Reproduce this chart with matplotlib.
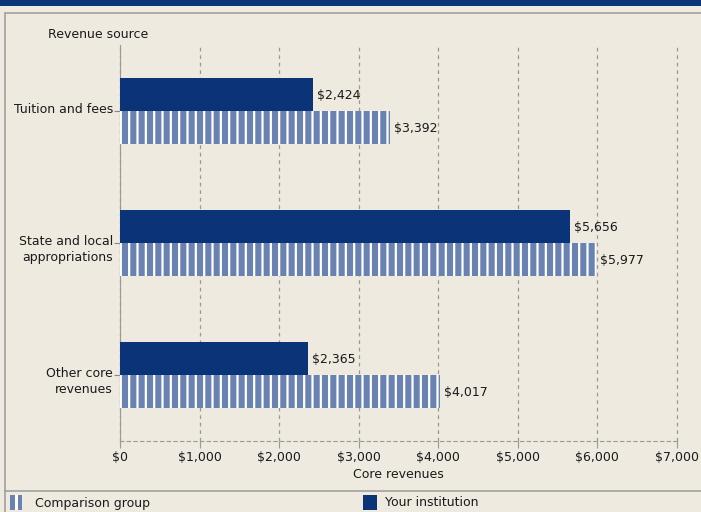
import numpy as np
import matplotlib
matplotlib.use('Agg')
import matplotlib.pyplot as plt
from matplotlib.patches import Rectangle

# données
categories = ['Tuition and fees', 'State and local\nappropriations', 'Other core\nrevenues']
your_inst = [2424, 5656, 2365]
comparison = [3392, 5977, 4017]
x_ticks = [0, 1000, 2000, 3000, 4000, 5000, 6000, 7000]
x_ticklabels = ['$0', '$1,000', '$2,000', '$3,000', '$4,000', '$5,000', '$6,000', '$7,000']

BG = '#EEEAE0'
NAVY = '#0A3378'
LIGHT = '#6A82B2'
GRIDC = '#999999'
TXT = '#1A1A1A'

plt.rcParams['font.family'] = 'DejaVu Sans'
plt.rcParams['hatch.linewidth'] = 1.6

W, H = 701, 512
fig = plt.figure(figsize=(W / 100, H / 100), dpi=100, facecolor=BG)

# bandeau du haut + cadre
fig.patches.append(Rectangle((0, 1 - 6 / H), 1, 6 / H, transform=fig.transFigure,
                             facecolor=NAVY, edgecolor='none'))
fig.patches.append(Rectangle((5 / W, -0.01), 2, 1 - 13 / H + 0.01,
                             transform=fig.transFigure, facecolor='none',
                             edgecolor='#A0A0A0', linewidth=1.2))
fig.add_artist(plt.Line2D([5 / W, 1], [1 - 491 / H] * 2, transform=fig.transFigure,
                          color='#A0A0A0', linewidth=1.2))

ax = fig.add_axes([120 / W, 1 - 441 / H, (677 - 120) / W, (441 - 45) / H])
ax.set_facecolor(BG)

y = np.arange(len(categories))
h = 0.25
ax.barh(y - h / 2, your_inst, height=h, color=NAVY, edgecolor='none', zorder=3)
ax.barh(y + h / 2, comparison, height=h, color=LIGHT, edgecolor='white',
        hatch='||', linewidth=0, zorder=3)

for yi, v in zip(y, your_inst):
    ax.annotate(f'${v:,}', (v, yi - h / 2), xytext=(3, -1), textcoords='offset points',
                va='center', ha='left', fontsize=9, color=TXT)
for yi, v in zip(y, comparison):
    ax.annotate(f'${v:,}', (v, yi + h / 2), xytext=(3, -1), textcoords='offset points',
                va='center', ha='left', fontsize=9, color=TXT)

ax.set_xlim(0, 7000)
ax.set_ylim(len(categories) - 0.5, -0.5)
ax.set_xticks(x_ticks)
ax.set_xticklabels(x_ticklabels, fontsize=9, color=TXT)
ax.set_yticks(y)
ax.set_yticklabels([])
# libellés des catégories : première ligne alignée sur le tick
for yi, lab in zip(y, categories):
    ax.text(-0.013, yi - 0.06, lab, transform=ax.get_yaxis_transform(), ha='right',
            va='top', fontsize=9, color=TXT, linespacing=1.25)

ax.grid(axis='x', color=GRIDC, linestyle=(0, (3, 3)), linewidth=0.9, zorder=0)
for gl in ax.get_xgridlines():
    gl.set_clip_on(False)
ax.tick_params(axis='x', length=5, color=GRIDC, pad=2)
ax.tick_params(axis='y', length=4, color='#888888', pad=2)

for s in ['top', 'right']:
    ax.spines[s].set_visible(False)
ax.spines['left'].set_color('#999999')
ax.spines['bottom'].set_color(GRIDC)
ax.spines['bottom'].set_linestyle((0, (3, 3)))

ax.set_xlabel('Core revenues', fontsize=9, color=TXT, labelpad=3)
fig.text(48 / W, 1 - 35 / H, 'Revenue source', fontsize=9, color=TXT,
         ha='left', va='center')

# légende
fig.patches.append(Rectangle((10 / W, 1 - 510 / H), 12 / W, 15 / H,
                             transform=fig.transFigure, facecolor=LIGHT,
                             edgecolor='none'))
fig.patches.append(Rectangle((15 / W, 1 - 510 / H), 2.5 / W, 15 / H,
                             transform=fig.transFigure, facecolor='white',
                             edgecolor='none'))
fig.text(35 / W, 1 - 503 / H, 'Comparison group', fontsize=9, color=TXT,
         va='center')
fig.patches.append(Rectangle((363 / W, 1 - 510 / H), 14 / W, 15 / H,
                             transform=fig.transFigure, facecolor=NAVY,
                             edgecolor='none'))
fig.text(385 / W, 1 - 503 / H, 'Your institution', fontsize=9, color=TXT,
         va='center')

fig.savefig('out.png', dpi=100, facecolor=BG)
